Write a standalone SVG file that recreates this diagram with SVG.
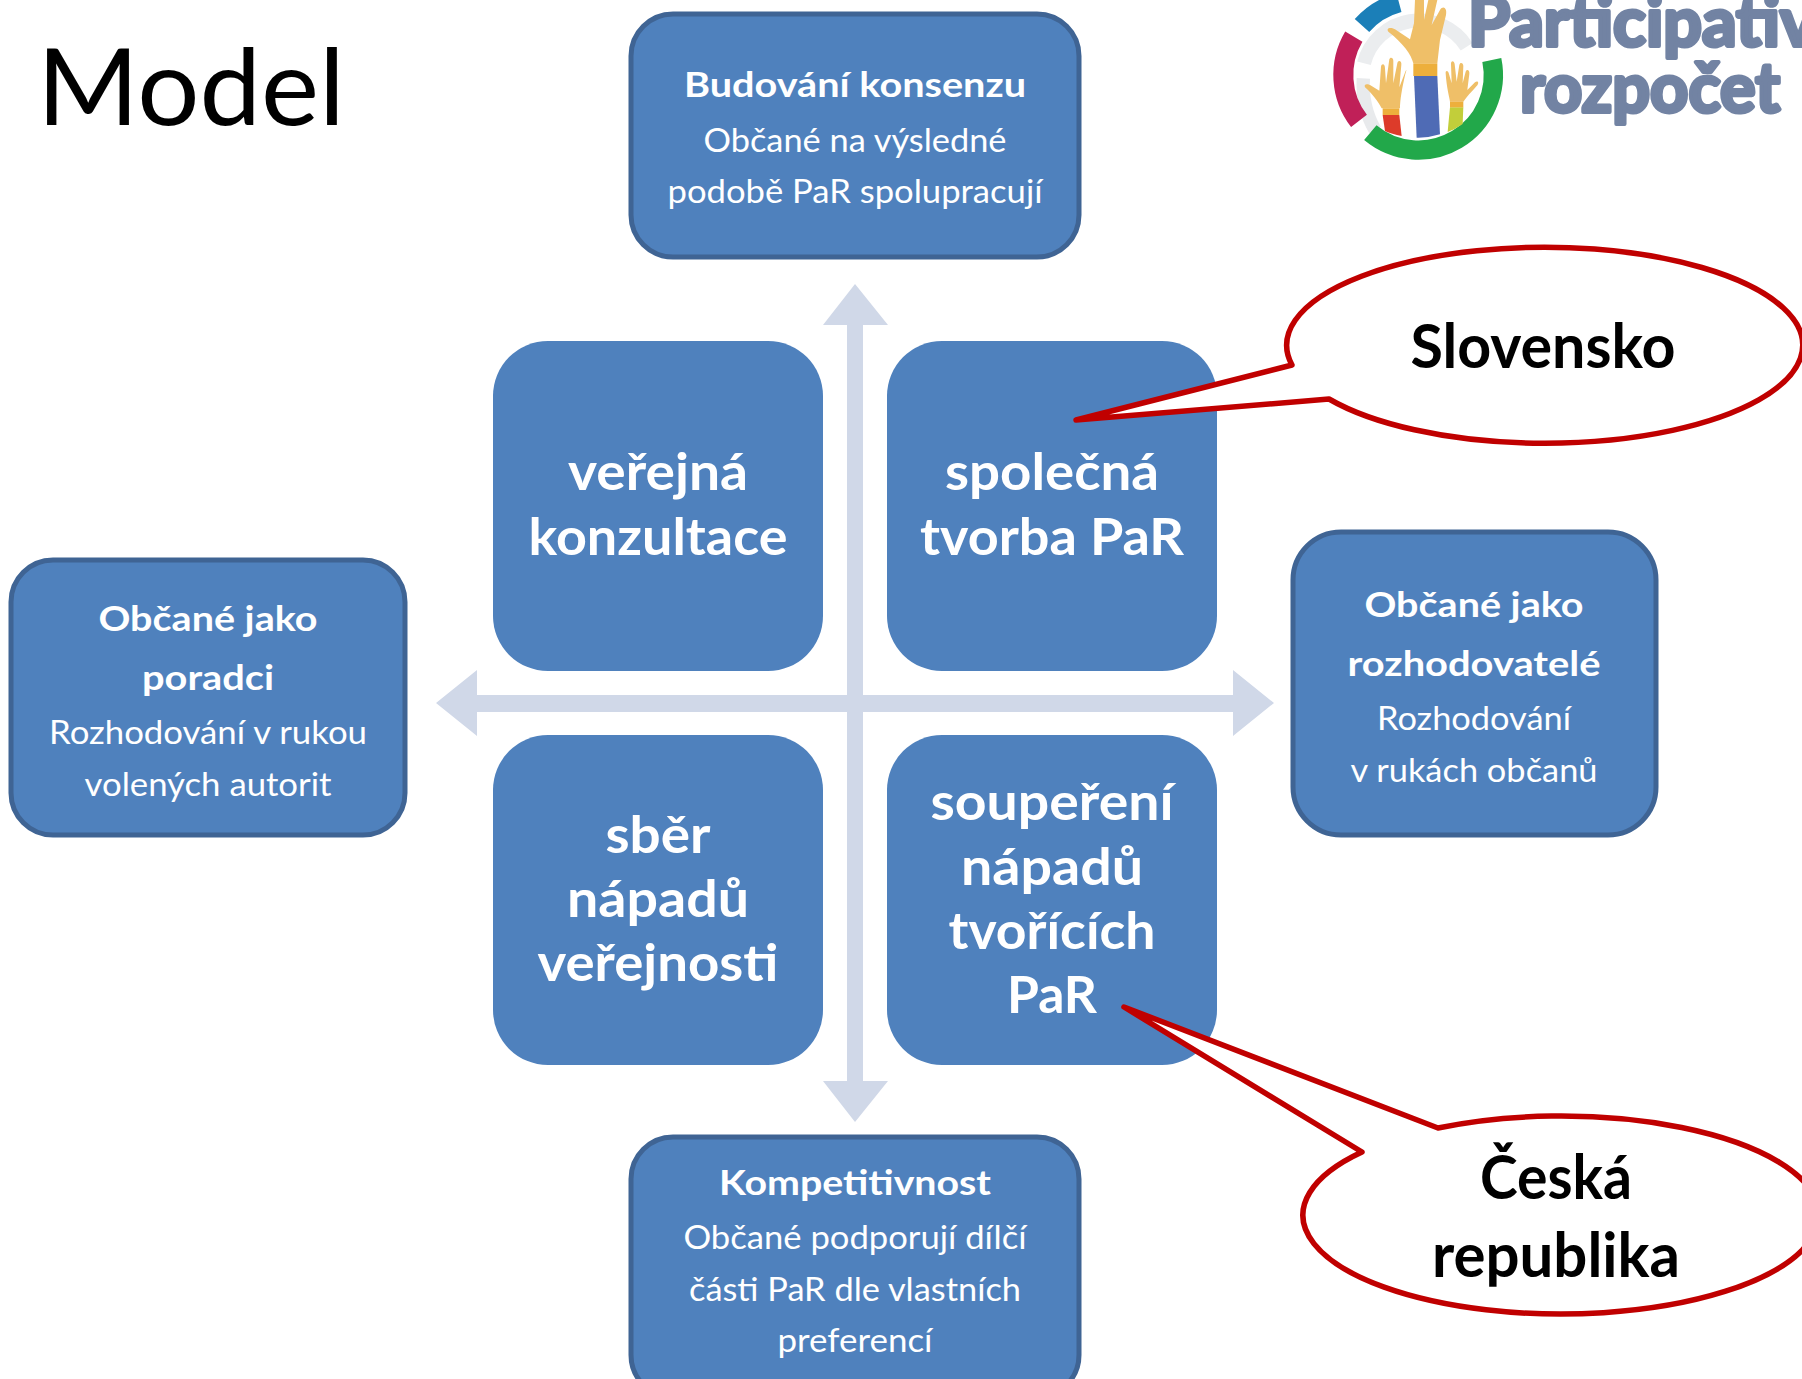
<svg xmlns="http://www.w3.org/2000/svg" width="1802" height="1379" viewBox="0 0 1802 1379">
<style>
text{font-family:"Lato","Carlito","Liberation Sans",sans-serif;text-anchor:middle}
.box{fill:#4f81bd;stroke:#3f6494;stroke-width:5}
.quad{fill:#4f81bd}
.arrow{fill:#d0d8e8}
.t{fill:#fff;font-size:33px}
.b{font-weight:700;font-size:35px}
.big{fill:#fff;font-size:52px;font-weight:700}
.call{fill:#fff;stroke:#c00000;stroke-width:5.5;stroke-linejoin:round}
.ct{fill:#000;font-weight:700;font-size:62px}
.logoT{fill:#7283a3;stroke:#7283a3;stroke-width:4;stroke-linejoin:round;font-weight:700;font-size:68px}
</style>
<rect width="1802" height="1379" fill="#fff"/>
<text x="191" y="125" font-size="107" fill="#000" textLength="308" lengthAdjust="spacingAndGlyphs">Model</text>

<g id="logo">
<g transform="translate(1300 0) scale(.3333)" fill="none">
<path d="M192 190A170 170 0 0 1 500 140" stroke="#ebedef" stroke-width="42"/>
<path d="M190 235Q185 320 225 390" stroke="#e8eaec" stroke-width="40"/>
<path d="M186 76.500A225 225 0 0 1 297 8" stroke="#1b7fb8" stroke-width="58"/>
<path d="M161.500 110A225 225 0 0 0 177 362.500" stroke="#c02058" stroke-width="60"/>
<path d="M211 398A225 225 0 0 0 575.500 180" stroke="#22a84a" stroke-width="58"/>
<path d="M248 345H298L305 408Q275 402 255 393Z" fill="#dd3b2a"/>
<path d="M450 322H490L488 372Q465 388 443 396Z" fill="#c2ce3a"/>
<path d="M342 228H412L420 403Q385 414 350 413Z" fill="#4f6bb5"/>
<path d="M245 325C235 305 215 280 195 262C190 250 205 250 215 258L238 272L243 200C245 190 255 190 255 205L258 250L268 178C270 170 280 172 280 182L280 250L292 190C294 178 306 182 304 195L298 262L316 215C320 205 320 210 316 222C306 265 300 300 300 325Z" fill="#efbf68"/>
<path d="M248 325H298V345H248Z" fill="#edaf3c"/>
<path d="M450 305C448 290 440 265 437 220C436 210 445 210 447 222L455 250L453 190C454 180 463 182 464 192L470 245L478 195C480 185 490 188 490 198L488 250L497 215C500 205 510 210 508 222L502 270L525 247C532 240 540 247 530 258C515 275 500 290 490 305Z" fill="#efbf68"/>
<path d="M450 305H490V322H450Z" fill="#edaf3c"/>
<path d="M340 190C335 165 310 130 265 95C258 85 270 80 285 88L330 118L342 70L345 0H372L372 60L385 0H412L395 75L420 30C430 15 442 25 438 45L420 120L412 190Z" fill="#efbf68"/>
<path d="M340 190H412V228H340Z" fill="#edaf3c"/>
</g>
<text class="logoT" x="1642" y="46" textLength="348" lengthAdjust="spacingAndGlyphs">Participativ</text>
<text class="logoT" x="1650" y="112" textLength="260" lengthAdjust="spacingAndGlyphs">rozpočet</text>
</g>

<g id="connectors">
<path class="arrow" d="M847 325H823L855 284L888 325H863V1081H888L855 1122L823 1081H847Z"/>
<path class="arrow" d="M477 695V670L436 703L477 736V712H1233V736L1274 703L1233 670V695Z"/>
</g>

<g id="node-budovani">
<rect class="box" x="631" y="14" width="448" height="243" rx="42"/>
<text class="t b" x="855" y="97" textLength="342" lengthAdjust="spacingAndGlyphs">Budování konsenzu</text>
<text class="t" x="855" y="152" textLength="303" lengthAdjust="spacingAndGlyphs">Občané na výsledné</text>
<text class="t" x="855" y="203" textLength="375" lengthAdjust="spacingAndGlyphs">podobě PaR spolupracují</text>
</g>
<g id="node-poradci">
<rect class="box" x="11" y="560" width="394" height="275" rx="42"/>
<text class="t b" x="208" y="631" textLength="219" lengthAdjust="spacingAndGlyphs">Občané jako</text>
<text class="t b" x="208" y="690" textLength="132" lengthAdjust="spacingAndGlyphs">poradci</text>
<text class="t" x="208" y="744" textLength="318" lengthAdjust="spacingAndGlyphs">Rozhodování v rukou</text>
<text class="t" x="208" y="796" textLength="247" lengthAdjust="spacingAndGlyphs">volených autorit</text>
</g>
<g id="node-rozhodovatele">
<rect class="box" x="1293" y="532" width="363" height="303" rx="48"/>
<text class="t b" x="1474" y="617" textLength="219" lengthAdjust="spacingAndGlyphs">Občané jako</text>
<text class="t b" x="1474" y="676" textLength="253" lengthAdjust="spacingAndGlyphs">rozhodovatelé</text>
<text class="t" x="1474" y="730" textLength="194" lengthAdjust="spacingAndGlyphs">Rozhodování</text>
<text class="t" x="1474" y="782" textLength="247" lengthAdjust="spacingAndGlyphs">v rukách občanů</text>
</g>
<g id="node-kompetitivnost">
<rect class="box" x="631" y="1137" width="448" height="260" rx="42"/>
<text class="t b" x="855" y="1195" textLength="272" lengthAdjust="spacingAndGlyphs">Kompetitivnost</text>
<text class="t" x="855" y="1249" textLength="343" lengthAdjust="spacingAndGlyphs">Občané podporují dílčí</text>
<text class="t" x="855" y="1301" textLength="332" lengthAdjust="spacingAndGlyphs">části PaR dle vlastních</text>
<text class="t" x="855" y="1352" textLength="155" lengthAdjust="spacingAndGlyphs">preferencí</text>
</g>

<g id="node-verejna">
<rect class="quad" x="493" y="341" width="330" height="330" rx="55"/>
<text class="big" x="658" y="490" textLength="180" lengthAdjust="spacingAndGlyphs">veřejná</text>
<text class="big" x="658" y="555" textLength="259" lengthAdjust="spacingAndGlyphs">konzultace</text>
</g>
<g id="node-spolecna">
<rect class="quad" x="887" y="341" width="330" height="330" rx="55"/>
<text class="big" x="1052" y="490" textLength="214" lengthAdjust="spacingAndGlyphs">společná</text>
<text class="big" x="1052" y="555" textLength="264" lengthAdjust="spacingAndGlyphs">tvorba PaR</text>
</g>
<g id="node-sber">
<rect class="quad" x="493" y="735" width="330" height="330" rx="55"/>
<text class="big" x="658" y="853" textLength="105" lengthAdjust="spacingAndGlyphs">sběr</text>
<text class="big" x="658" y="917" textLength="182" lengthAdjust="spacingAndGlyphs">nápadů</text>
<text class="big" x="658" y="981" textLength="241" lengthAdjust="spacingAndGlyphs">veřejnosti</text>
</g>
<g id="node-soupereni">
<rect class="quad" x="887" y="735" width="330" height="330" rx="55"/>
<text class="big" x="1052" y="820" textLength="243" lengthAdjust="spacingAndGlyphs">soupeření</text>
<text class="big" x="1052" y="885" textLength="182" lengthAdjust="spacingAndGlyphs">nápadů</text>
<text class="big" x="1052" y="949" textLength="207" lengthAdjust="spacingAndGlyphs">tvořících</text>
<text class="big" x="1052" y="1013" textLength="90" lengthAdjust="spacingAndGlyphs">PaR</text>
</g>

<g id="callout-slovensko">
<path class="call" d="M1076 420L1292 365A258 98 0 1 1 1329 399Z"/>
<text class="ct" x="1543" y="368" textLength="265" lengthAdjust="spacingAndGlyphs">Slovensko</text>
</g>
<g id="callout-ceska">
<path class="call" d="M1124 1007L1438 1128A258 99 0 1 1 1362 1152Z"/>
<text class="ct" x="1556" y="1199" textLength="152" lengthAdjust="spacingAndGlyphs">Česká</text>
<text class="ct" x="1556" y="1277" textLength="248" lengthAdjust="spacingAndGlyphs">republika</text>
</g>
</svg>
